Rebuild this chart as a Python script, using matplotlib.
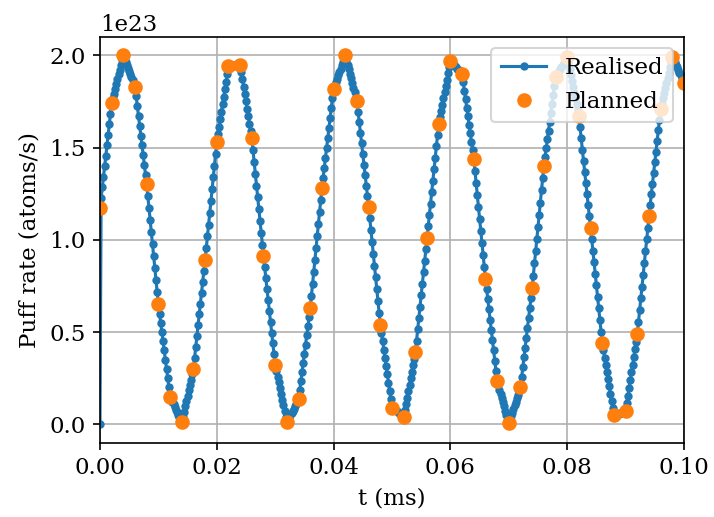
import numpy as np
import matplotlib
matplotlib.use('Agg')
import matplotlib.pyplot as plt

plt.rcParams['font.family'] = 'serif'
plt.rcParams['font.serif'] = ['DejaVu Serif']
plt.rcParams['font.size'] = 11

# planned puff rate (units of 1e23 atoms/s), one setpoint every 0.002 ms
t_plan = np.arange(51) * 0.002
rate_plan = np.array([
    1.17, 1.74, 2.00, 1.83, 1.30, 0.65, 0.15, 0.01, 0.30, 0.89,
    1.53, 1.94, 1.95, 1.55, 0.91, 0.32, 0.01, 0.135, 0.63, 1.28,
    1.82, 2.00, 1.75, 1.18, 0.54, 0.09, 0.04, 0.39, 1.01, 1.63,
    1.97, 1.90, 1.44, 0.79, 0.234, 0.005, 0.20, 0.74, 1.40, 1.88,
    1.99, 1.67, 1.066, 0.44, 0.049, 0.072, 0.49, 1.13, 1.71, 1.99,
    1.85,
]) * 1e23

# realised rate: valve driven on a 0.0002 ms grid, ramping between setpoints,
# starting from zero at t = 0
t_real = np.arange(501) * 0.0002
rate_real = np.interp(t_real, t_plan, rate_plan)
rate_real[0] = 0.0

fig = plt.figure(figsize=(4.76, 3.4467), dpi=150)
ax = fig.add_axes([0.140, 0.1437, 0.818, 0.785])
ax.plot(t_real, rate_real, '.-', label='Realised')
ax.plot(t_plan, rate_plan, 'o', label='Planned')
ax.set_xlim(0, 0.1)
ax.set_xlabel('t (ms)')
ax.set_ylabel('Puff rate (atoms/s)')
ax.grid(True)
ax.legend(loc='upper right')
fig.savefig('out.png', dpi=150)
